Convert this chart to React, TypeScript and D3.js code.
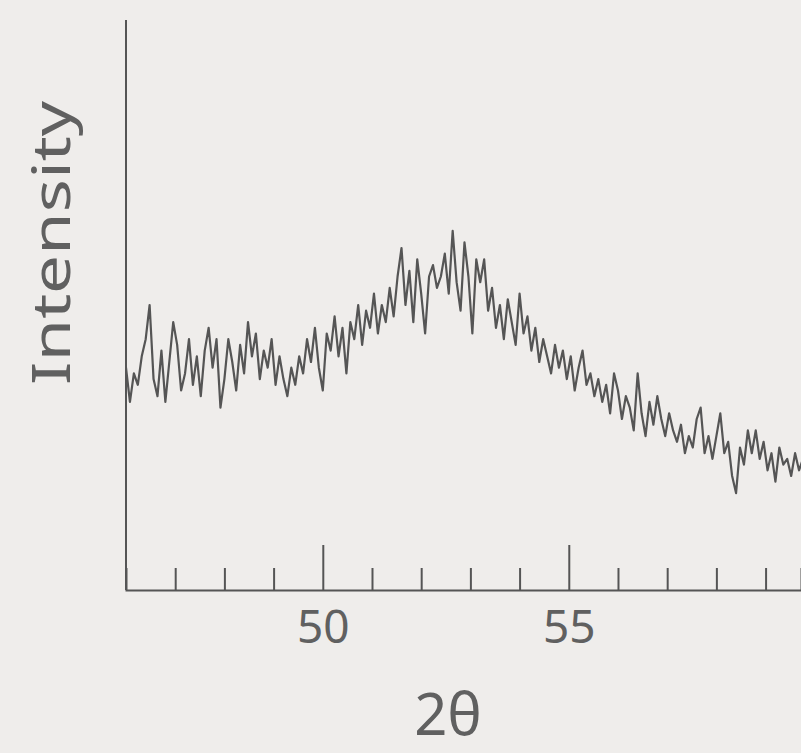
import { useEffect, useRef } from "react";
import * as d3 from "d3";

// 2-theta scan, step 0.08 deg starting at 46.0
const startAngle = 46.0;
const step = 0.08;
const intensity = [
  39, 33, 38, 36, 41, 44, 50, 37, 34, 42,
  33, 40, 47, 43, 35, 38, 44, 36, 41, 34,
  42, 46, 39, 44, 32, 37, 44, 40, 35, 43,
  38, 47, 41, 45, 37, 42, 39, 44, 36, 41,
  37, 34, 39, 36, 41, 38, 44, 40, 46, 39,
  35, 45, 42, 48, 41, 46, 38, 47, 44, 50,
  43, 49, 46, 52, 45, 50, 47, 53, 48, 55,
  60, 50, 56, 47, 58, 52, 45, 55, 57, 53,
  55, 59, 52, 63, 54, 49, 61, 55, 45, 58,
  54, 58, 49, 53, 46, 50, 44, 51, 47, 43,
  52, 45, 48, 42, 46, 40, 44, 41, 38, 43,
  39, 42, 37, 41, 35, 39, 42, 36, 38, 34,
  37, 33, 36, 31, 38, 35, 30, 34, 32, 28,
  38, 31, 27, 33, 29, 34, 30, 27, 31, 28,
  26, 29, 24, 27, 25, 30, 32, 24, 27, 23,
  27, 31, 24, 26, 20, 17, 25, 22, 28, 24,
  28, 23, 26, 21, 24, 19, 25, 22, 23, 20,
  24, 21, 23,
];
const majorTicks = [50, 55];
const minorTicks = [47, 48, 49, 51, 52, 53, 54, 56, 57, 58, 59];

const W = 801;
const H = 753;
const ink = "#555555";
const textInk = "#606060";
const font = "'Noto Sans', sans-serif";

export default function App() {
  const ref = useRef<SVGSVGElement>(null);

  useEffect(() => {
    const svg = d3.select(ref.current);
    svg.selectAll("*").remove();

    svg.append("rect").attr("width", W).attr("height", H).attr("fill", "#efedeb");

    const x = d3.scaleLinear().domain([46, 59.72]).range([126, 801]);
    const y = d3.scaleLinear().domain([0, 100]).range([590, 20]);

    const pts = intensity.map((v, i) => [startAngle + i * step, v] as [number, number]);

    svg.append("clipPath").attr("id", "plot")
      .append("rect").attr("x", 126).attr("y", 0).attr("width", W - 126).attr("height", 590);

    // y axis line
    svg.append("line")
      .attr("x1", x(46)).attr("x2", x(46))
      .attr("y1", y(100)).attr("y2", y(0))
      .attr("stroke", ink).attr("stroke-width", 2);

    // minor ticks
    const minor = svg.append("g").attr("transform", `translate(0,${y(0)})`)
      .call(d3.axisBottom(x).tickValues(minorTicks).tickSize(-22).tickFormat(() => ""));
    minor.select(".domain").attr("stroke", ink).attr("stroke-width", 2);
    minor.selectAll(".tick line").attr("stroke", ink).attr("stroke-width", 2);

    // major ticks with labels
    const major = svg.append("g").attr("transform", `translate(0,${y(0)})`)
      .call(d3.axisBottom(x).tickValues(majorTicks).tickSize(-45).tickPadding(0).tickFormat(d3.format("d")));
    major.select(".domain").remove();
    major.selectAll(".tick line").attr("stroke", ink).attr("stroke-width", 2);
    major.selectAll(".tick text")
      .attr("y", 20)
      .attr("fill", textInk)
      .attr("font-family", font)
      .attr("font-size", 46);

    svg.append("path")
      .datum(pts)
      .attr("clip-path", "url(#plot)")
      .attr("fill", "none")
      .attr("stroke", ink)
      .attr("stroke-width", 2.2)
      .attr("stroke-linejoin", "round")
      .attr("d", d3.line().x((d) => x(d[0])).y((d) => y(d[1])));

    svg.append("text")
      .attr("transform", "translate(70,243) rotate(-90)")
      .attr("text-anchor", "middle")
      .attr("fill", textInk)
      .attr("font-family", font)
      .attr("font-size", 52)
      .attr("textLength", 284)
      .attr("lengthAdjust", "spacingAndGlyphs")
      .text("Intensity");

    svg.append("text")
      .attr("x", 448)
      .attr("y", 735)
      .attr("text-anchor", "middle")
      .attr("fill", textInk)
      .attr("font-family", font)
      .attr("font-size", 58)
      .text("2θ");
  }, []);

  return (
    <svg
      ref={ref}
      width={W}
      height={H}
      style={{ position: "absolute", left: 0, top: 0, display: "block" }}
    />
  );
}
